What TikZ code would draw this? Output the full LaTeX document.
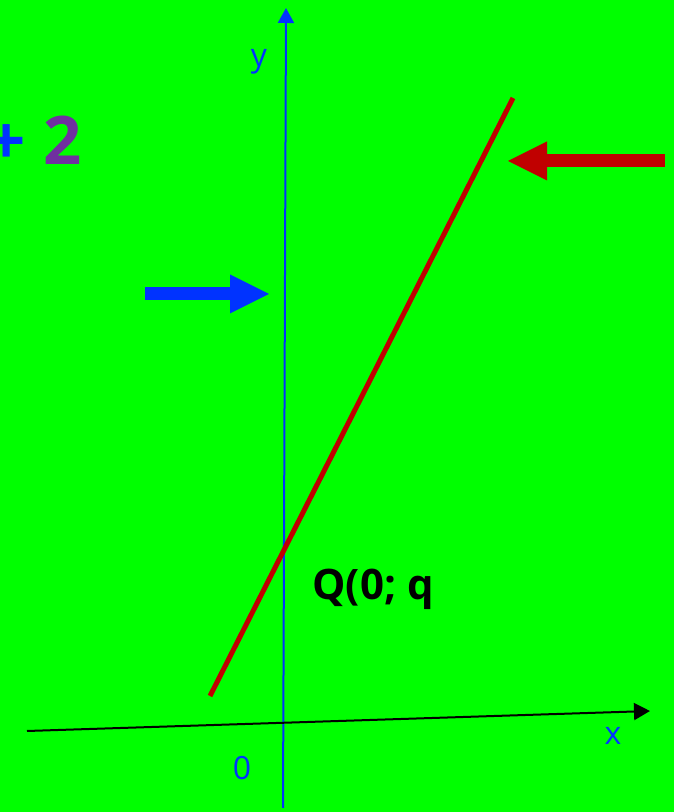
\documentclass[tikz,border=0pt]{standalone}
\usepackage{fontspec}
\setmainfont{Open Sans}
\usetikzlibrary{arrows.meta}
\definecolor{bggreen}{RGB}{0,255,0}
\definecolor{axisblue}{RGB}{0,51,255}
\definecolor{darkred}{RGB}{192,0,0}
\definecolor{violet2}{RGB}{112,48,160}

\begin{document}
\begin{tikzpicture}[x=1pt,y=1pt,
  lbl/.style={text=axisblue, font=\fontsize{32}{38}\selectfont, inner sep=0pt, anchor=base},
  big/.style={font=\bfseries\fontsize{67}{80}\selectfont, inner sep=0pt, anchor=base},
  fat/.style={line width=13pt, -{Triangle[length=39pt,width=39pt,line width=0pt]}}]
\fill[bggreen] (0,0) rectangle (674,812);
\useasboundingbox (0,0) rectangle (674,812);

% axes
\coordinate (ybot) at (283,4);
\coordinate (ytop) at (286,804);
\coordinate (xleft) at (27,81);
\coordinate (xright) at (650,101);
\draw[axisblue, line width=2pt, -{Triangle[length=15pt,width=16pt]}] (ybot) -- (ytop);
\draw[black, line width=2pt, -{Triangle[length=16pt,width=17pt]}] (xleft) -- (xright);
\node[lbl] (ylab) at (259,745) {y};
\node[lbl] (xlab) at (613,67) {x};
\node[lbl] (zero) at (242,32) {0};

% the line
\coordinate (lo) at (210,116);
\coordinate (hi) at (513,714);
\draw[darkred, line width=5pt] (lo) -- (hi);
\node[font=\bfseries\fontsize{42}{50}\selectfont, inner sep=0pt, anchor=base] (qpt) at (373,212) {Q(0; q};

% top left
\node[big, text=axisblue] (plus) at (7,647) {+};
\node[big, text=violet2] (two) at (63,647) {2};

% arrows
\coordinate (rtail) at (665,651);
\coordinate (rtip) at (508,651);
\draw[darkred, fat] (rtail) -- (rtip);
\coordinate (btail) at (145,518);
\coordinate (btip) at (269,518);
\draw[axisblue, fat] (btail) -- (btip);
\end{tikzpicture}
\end{document}
